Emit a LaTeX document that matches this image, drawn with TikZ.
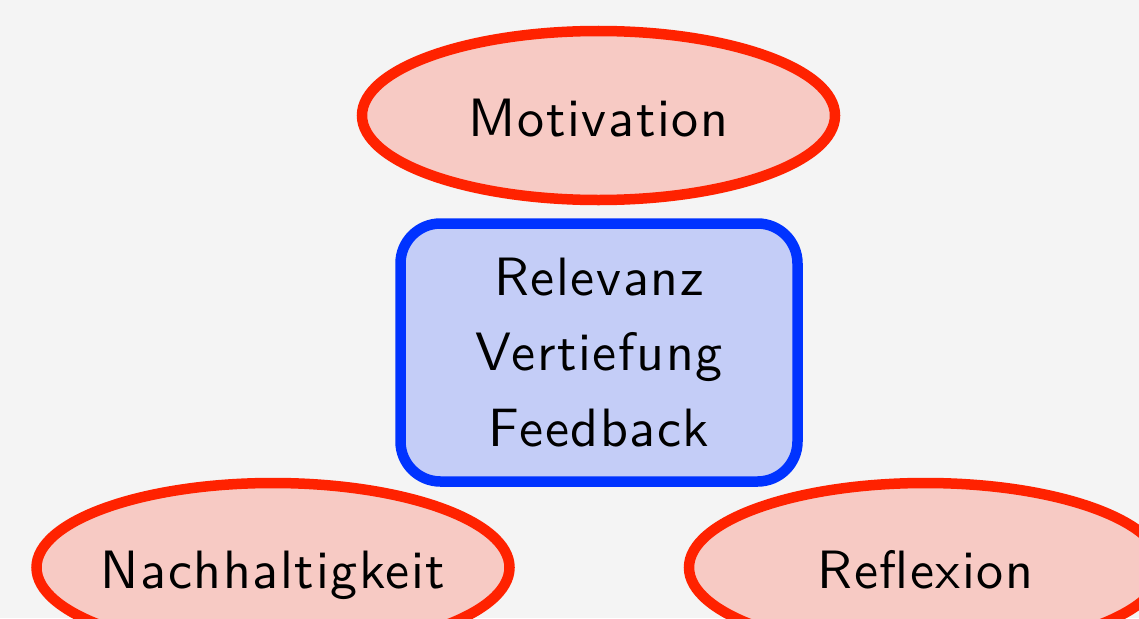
\documentclass[tikz,border=0pt]{standalone}
\usetikzlibrary{shapes.geometric}
\definecolor{bgc}{HTML}{F4F4F4}
\definecolor{redline}{HTML}{FF2200}
\definecolor{redfill}{HTML}{F7CAC4}
\definecolor{blueline}{HTML}{0033FF}
\definecolor{bluefill}{HTML}{C4CDF7}
\font\bigsans="[lmsans10-regular.otf]:letterspace=3" at 54pt
\newcommand\corefont{\bigsans\baselineskip=75.7pt\relax}
\tikzset{
  oval/.style={ellipse, draw=redline, fill=redfill, line width=10.5pt,
    minimum width=473pt, minimum height=169pt, inner ysep=0pt, inner xsep=-40pt,
    text height=41pt, text depth=0pt,
    font=\bigsans},
  centerbox/.style={rectangle, rounded corners=40pt, draw=blueline, fill=bluefill,
    line width=10.5pt, minimum width=397pt, minimum height=258pt, inner sep=0pt,
    align=center, font=\corefont}
}
\begin{document}
\begin{tikzpicture}[x=1pt,y=-1pt]
\fill[bgc] (0,0) rectangle (1139,618);
\useasboundingbox (0,0) rectangle (1139,618);
\clip (0,0) rectangle (1139,618);
\node[oval] (mot) at (598.5,115.5) {Motivation};
\node[centerbox] (core) at (599,352.5) {Relevanz\\Vertiefung\\Feedback};
\node[oval] (nach) at (273,567.5) {Nachhaltigkeit};
\node[oval] (refl) at (925.5,567.5) {Reflexion};
\end{tikzpicture}
\end{document}
